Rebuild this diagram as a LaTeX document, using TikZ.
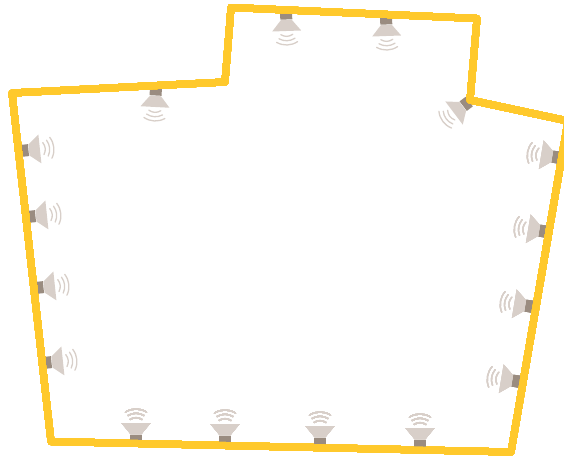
\documentclass[tikz,border=0pt]{standalone}
\usepackage{xcolor}
\definecolor{wall}{HTML}{FFC92C}
\definecolor{cone}{HTML}{D8CFC9}
\definecolor{magnet}{HTML}{9A8C80}
\tikzset{
  wallline/.style={draw=wall,line width=7pt,line join=round},
  conebody/.style={fill=cone,draw=none},
  magnetbody/.style={fill=magnet,draw=none},
  wave/.style={draw=cone,line width=1.3pt,line cap=round},
}
% #1 = x, #2 = y, #3 = rotation
\newcommand{\spk}[3]{%
  \begin{scope}[shift={(#1,#2)},rotate=#3]
    \fill[magnetbody] (-6,1) rectangle (6,8.5);
    \fill[conebody] (-5.5,9) -- (5.5,9) -- (14.5,20) -- (-14.5,20) -- cycle;
    \draw[wave] (-6,23.5) .. controls (-2,26) and (2,26) .. (6,23.5);
    \draw[wave] (-8,27.5) .. controls (-3,30.5) and (3,30.5) .. (8,27.5);
    \draw[wave] (-10.5,31) .. controls (-4,35) and (4,35) .. (10.5,31);
  \end{scope}}
\begin{document}
\begin{tikzpicture}[x=1pt,y=-1pt]
\useasboundingbox (0,0) rectangle (564,456);
% ceiling side
\spk{156}{87}{-3}
\spk{286}{11}{2}
\spk{386}{16}{2}
\spk{470}{101}{-53}
% left wall
\foreach \px/\py in {20/151,27/217,35/288,43/363}
  \spk{\px}{\py}{96}
% right wall
\foreach \px/\py in {561/158,548/232,534/307,521/382}
  \spk{\px}{\py}{-99.5}
% floor side
\foreach \px/\py in {136/443,225/444,320/446,420/448}
  \spk{\px}{\py}{180}
\draw[wallline] (12,93) -- (225,82) -- (231,7.5) -- (477,18.5) -- (470,100) -- (568,121)
  -- (511,452) -- (51,441.5) -- cycle;
\end{tikzpicture}
\end{document}
